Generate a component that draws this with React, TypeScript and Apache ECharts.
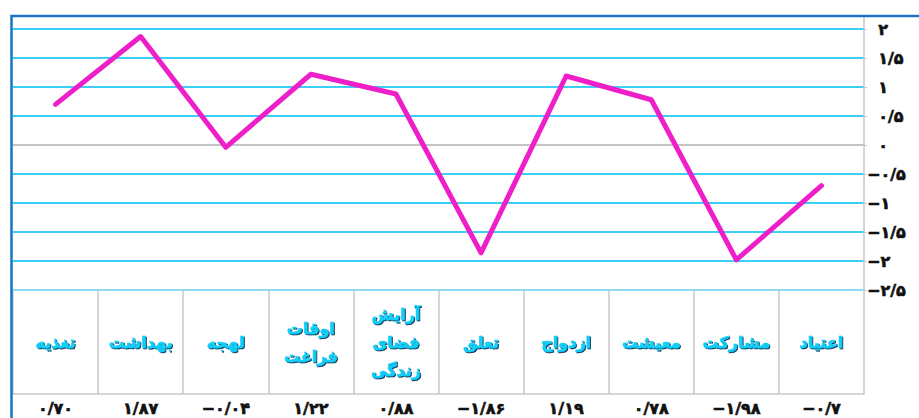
import React, { useEffect, useRef } from 'react';
import * as echarts from 'echarts';

const categories = ['تغذیه', 'بهداشت', 'لهجه', 'اوقات فراغت', 'آرایش فضای زندگی', 'تعلق', 'ازدواج', 'معیشت', 'مشارکت', 'اعتیاد'];
const values = [0.7, 1.87, -0.04, 1.22, 0.88, -1.86, 1.19, 0.78, -1.98, -0.7];
const valueTexts = ['۰/۷۰', '۱/۸۷', '−۰/۰۴', '۱/۲۲', '۰/۸۸', '−۱/۸۶', '۱/۱۹', '۰/۷۸', '−۱/۹۸', '−۰/۷'];
const yMin = -2.5;
const yMax = 2;
const yInterval = 0.5;

const FONT = "'DejaVu Sans', sans-serif";
const PERSIAN = '۰۱۲۳۴۵۶۷۸۹';

function toPersian(v: number): string {
  const s = String(Math.abs(v)).replace('.', '/').replace(/[0-9]/g, (d) => PERSIAN[Number(d)]);
  return v < 0 ? '−' + s : '\u2007' + s;
}

export default function App() {
  const ref = useRef<HTMLDivElement>(null);
  useEffect(() => {
    if (!ref.current) return;
    const chart = echarts.init(ref.current, undefined, { renderer: 'svg' });
    chart.setOption({
      animation: false,
      backgroundColor: '#ffffff',
      grid: { left: 13, right: 55, top: 29, bottom: 128, containLabel: false, outerBoundsMode: 'none' },
      xAxis: [
        {
          type: 'category',
          data: categories,
          position: 'bottom',
          boundaryGap: true,
          axisLine: { show: true, onZero: false, lineStyle: { color: '#8fdcf2', width: 2 } },
          axisTick: { show: true, inside: false, length: 104, lineStyle: { color: '#c9c9c9', width: 1.5 } },
          axisLabel: {
            interval: 0,
            margin: 52,
            verticalAlign: 'middle',
            color: '#12cdf7',
            fontFamily: FONT,
            fontWeight: 'bold',
            fontSize: 16,
            lineHeight: 28,
            textBorderColor: '#12cdf7',
            textBorderWidth: 0.6,
            textShadowColor: '#0b2f55',
            textShadowBlur: 1,
            textShadowOffsetX: 1,
            textShadowOffsetY: 1,
            formatter: (name: string) => name.split(' ').join('\n'),
          },
          splitLine: { show: false },
        },
        {
          type: 'category',
          data: valueTexts,
          position: 'bottom',
          offset: 104,
          boundaryGap: true,
          axisLine: { show: true, onZero: false, lineStyle: { color: '#c9c9c9', width: 1.5 } },
          axisTick: { show: false },
          axisLabel: {
            interval: 0,
            margin: 14,
            verticalAlign: 'middle',
            color: '#111111',
            fontFamily: FONT,
            fontWeight: 'bold',
            fontSize: 16,
            lineHeight: 18,
            textBorderColor: '#111111',
            textBorderWidth: 0.6,
          },
        },
        {
          type: 'category',
          data: categories,
          z: 1,
          axisLine: { show: true, onZero: true, lineStyle: { color: '#c4c4c4', width: 2 } },
          axisTick: { show: false },
          axisLabel: { show: false },
        },
      ],
      yAxis: {
        type: 'value',
        position: 'right',
        min: yMin,
        max: yMax,
        interval: yInterval,
        axisLine: { show: true, lineStyle: { color: '#c9c9c9', width: 1.5 } },
        axisTick: { show: true, length: 3, lineStyle: { color: '#c9c9c9' } },
        axisLabel: {
          margin: 3,
          align: 'left',
          color: '#111111',
          fontFamily: FONT,
          fontWeight: 'bold',
          fontSize: 16,
          textBorderColor: '#111111',
          textBorderWidth: 0.6,
          formatter: (v: number) => (v === 0 ? '\u2007۰' : toPersian(v)),
        },
        splitLine: { show: true, lineStyle: { color: '#3ccff5', width: 2 } },
      },
      series: [
        {
          type: 'line',
          data: values,
          xAxisIndex: 0,
          showSymbol: false,
          symbol: 'none',
          lineStyle: { color: '#ee1fc8', width: 5, join: 'round', cap: 'round' },
          z: 3,
        },
      ],
      graphic: [
        {
          type: 'line',
          shape: { x1: 864, y1: 16, x2: 864, y2: 29 },
          style: { stroke: '#c9c9c9', lineWidth: 1.5 },
          silent: true,
        },
        {
          type: 'polyline',
          shape: { points: [[11.5, 430], [11.5, 16], [930, 16]] },
          style: { stroke: '#1874c5', lineWidth: 2.5, fill: 'none' },
          silent: true,
          z: 10,
        },
      ],
    });
    return () => chart.dispose();
  }, []);
  return (
    <div
      ref={ref}
      style={{ position: 'fixed', left: 0, top: 0, width: 919, height: 418 }}
    />
  );
}
